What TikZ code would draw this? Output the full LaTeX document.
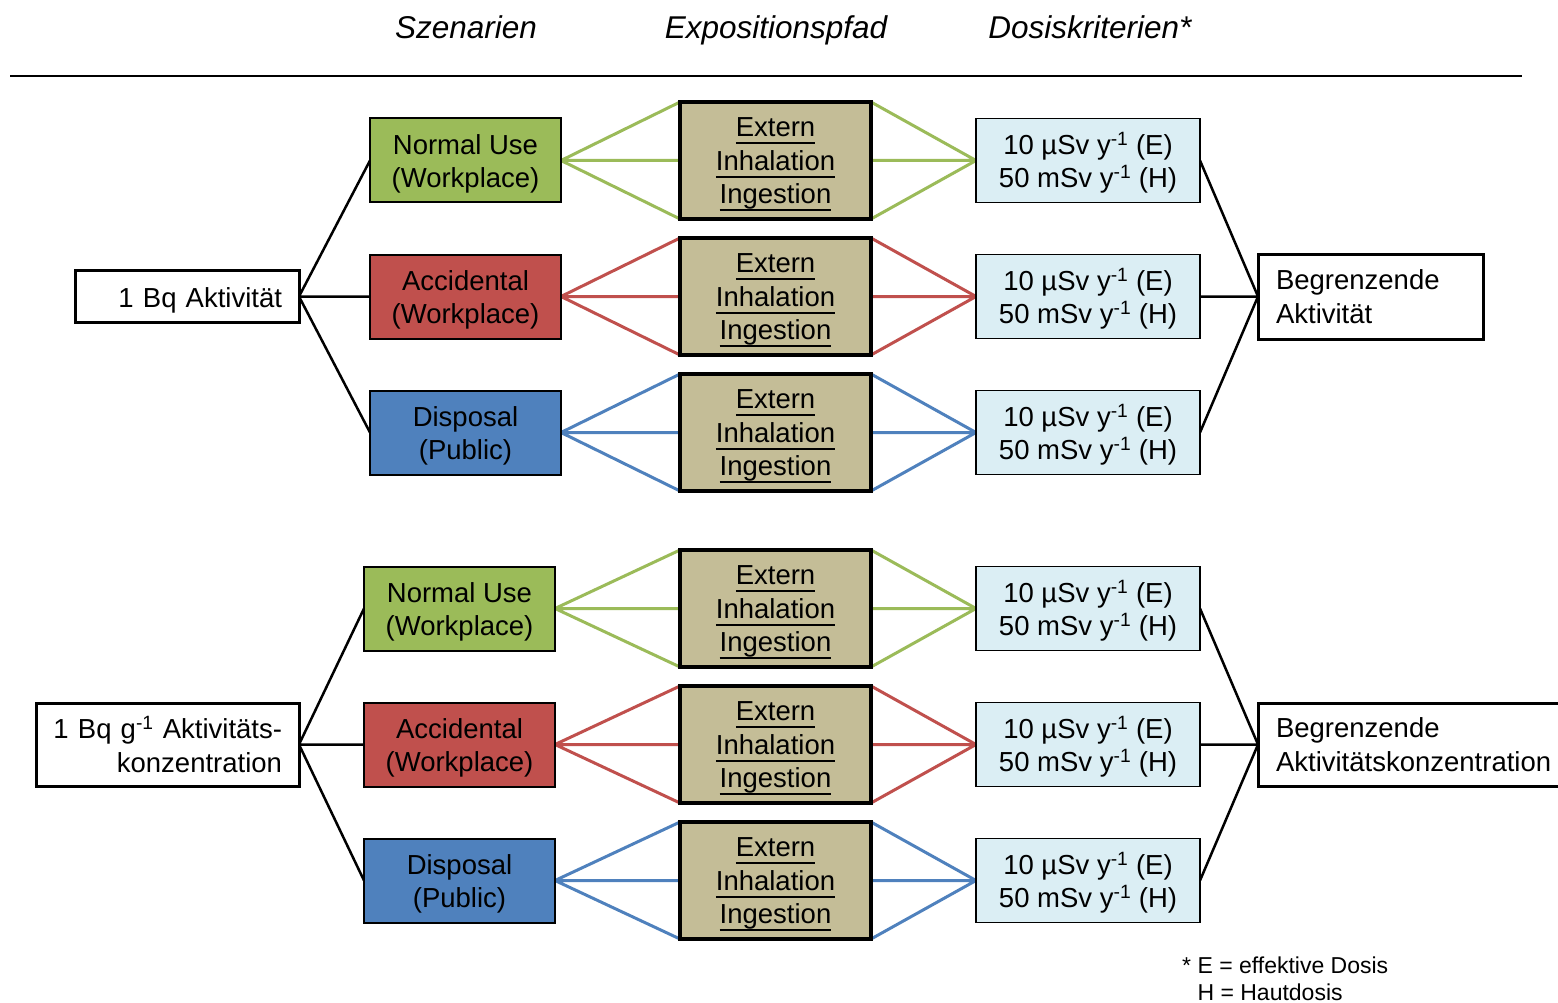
\documentclass[tikz,border=0pt]{standalone}
\usepackage{fontspec}
\setmainfont{Liberation Sans}
\usepackage{xcolor}
\usetikzlibrary{positioning, backgrounds}

\definecolor{grn}{HTML}{9BBB59}
\definecolor{rd}{HTML}{C0504D}
\definecolor{blu}{HTML}{4F81BD}
\definecolor{tan}{HTML}{C4BD97}
\definecolor{ice}{HTML}{DBEEF4}
\newcommand{\bigtxt}{\fontsize{27.5}{33.5}\selectfont}
\newcommand{\lift}{\rule{0pt}{27pt}}
\newcommand{\perY}{y\textsuperscript{-1}}
\newcommand{\ul}[1]{\setbox0=\hbox{#1}\rlap{\rule[-7.5pt]{\wd0}{2pt}}\box0}
\newcommand{\pfadtext}{\lift\ul{Extern}\\\ul{Inhalation}\\\ul{Ingestion}}
\newcommand{\dosistext}{\lift 10 µSv \perY{} (E)\\50 mSv \perY{} (H)}

\begin{document}
\begin{tikzpicture}[
    x=1pt, y=-1pt,
    szen/.style={draw, line width=2pt, fill=#1, minimum width=191pt, minimum height=84pt, inner sep=0pt, outer sep=0pt, align=center, font=\bigtxt},
    pfad/.style={draw, line width=3.5pt, fill=tan, minimum width=191pt, minimum height=117pt, inner sep=0pt, outer sep=0pt, align=center, font=\bigtxt},
    dosis/.style={draw, line width=1.5pt, fill=ice, minimum width=224pt, minimum height=84pt, inner sep=0pt, outer sep=0pt, align=center, font=\bigtxt},
    ende/.style={draw, line width=3pt, fill=white, inner sep=0pt, outer sep=0pt, font=\bigtxt},
    header/.style={font=\fontsize{31.5}{36}\selectfont\itshape, anchor=base},
    blk/.style={line width=2.5pt, black},
    fan/.style={line width=3pt, draw=#1}
]
\useasboundingbox (0,0) rectangle (1558,1003);

% Column headers
\node[header] (h1) at (466,39) {Szenarien};
\node[header] (h2) at (776,39) {Expositionspfad};
\node[header] (h3) at (1090,39) {Dosiskriterien*};
\draw[line width=2.5pt] (10,76) -- (1522,76);

% Upper group: activity
\node[pfad] (a2) at (775.5,160.5) {\pfadtext};
\node[pfad, below=19pt of a2] (b2) {\pfadtext};
\node[pfad, below=19pt of b2] (c2) {\pfadtext};
\node[szen=grn, left=119pt of a2] (a1) {\lift Normal Use\\(Workplace)};
\node[szen=rd, left=119pt of b2] (b1) {\lift Accidental\\(Workplace)};
\node[szen=blu, left=119pt of c2] (c1) {\lift Disposal\\(Public)};
\node[dosis, right=105pt of a2] (a3) {\dosistext};
\node[dosis, right=105pt of b2] (b3) {\dosistext};
\node[dosis, right=105pt of c2] (c3) {\dosistext};
\node[ende, minimum width=224pt, minimum height=52pt, text width=190pt, align=right, left=71pt of b1] (q1) {\lift 1 Bq Aktivität};
\node[ende, minimum width=225pt, minimum height=85pt, text width=189pt, align=left, right=58pt of b3] (g1) {Begrenzende\\Aktivität};

% Lower group: activity concentration
\node[pfad] (d2) at (775.5,608.5) {\pfadtext};
\node[pfad, below=19pt of d2] (e2) {\pfadtext};
\node[pfad, below=19pt of e2] (f2) {\pfadtext};
\node[szen=grn, left=125pt of d2] (d1) {\lift Normal Use\\(Workplace)};
\node[szen=rd, left=125pt of e2] (e1) {\lift Accidental\\(Workplace)};
\node[szen=blu, left=125pt of f2] (f1) {\lift Disposal\\(Public)};
\node[dosis, right=105pt of d2] (d3) {\dosistext};
\node[dosis, right=105pt of e2] (e3) {\dosistext};
\node[dosis, right=105pt of f2] (f3) {\dosistext};
\node[ende, minimum width=263pt, minimum height=83pt, text width=229pt, align=right, left=65pt of e1] (q2) {1 Bq g\textsuperscript{-1} Aktivitäts-\\konzentration};
\node[ende, minimum width=313pt, minimum height=83pt, text width=277pt, align=left, right=58pt of e3] (g2) {Begrenzende\\Aktivitätskonzentration};

% Footnote
\node[anchor=north west, align=left, inner sep=0pt, font=\fontsize{23}{27}\selectfont] (fn) at (1182,957) {* E = effektive Dosis\\\phantom{* }H = Hautdosis};

% Connectors
\begin{scope}[on background layer]
\draw[blk] (q1.east) -- (a1.west) (q1.east) -- (b1.west) (q1.east) -- (c1.west);
\draw[blk] (a3.east) -- (g1.west) (b3.east) -- (g1.west) (c3.east) -- (g1.west);
\draw[fan=grn] (a1.east) -- (a2.north west) (a1.east) -- (a2.west) (a1.east) -- (a2.south west);
\draw[fan=grn] (a2.north east) -- (a3.west) (a2.east) -- (a3.west) (a2.south east) -- (a3.west);
\draw[fan=rd] (b1.east) -- (b2.north west) (b1.east) -- (b2.west) (b1.east) -- (b2.south west);
\draw[fan=rd] (b2.north east) -- (b3.west) (b2.east) -- (b3.west) (b2.south east) -- (b3.west);
\draw[fan=blu] (c1.east) -- (c2.north west) (c1.east) -- (c2.west) (c1.east) -- (c2.south west);
\draw[fan=blu] (c2.north east) -- (c3.west) (c2.east) -- (c3.west) (c2.south east) -- (c3.west);

\draw[blk] (q2.east) -- (d1.west) (q2.east) -- (e1.west) (q2.east) -- (f1.west);
\draw[blk] (d3.east) -- (g2.west) (e3.east) -- (g2.west) (f3.east) -- (g2.west);
\draw[fan=grn] (d1.east) -- (d2.north west) (d1.east) -- (d2.west) (d1.east) -- (d2.south west);
\draw[fan=grn] (d2.north east) -- (d3.west) (d2.east) -- (d3.west) (d2.south east) -- (d3.west);
\draw[fan=rd] (e1.east) -- (e2.north west) (e1.east) -- (e2.west) (e1.east) -- (e2.south west);
\draw[fan=rd] (e2.north east) -- (e3.west) (e2.east) -- (e3.west) (e2.south east) -- (e3.west);
\draw[fan=blu] (f1.east) -- (f2.north west) (f1.east) -- (f2.west) (f1.east) -- (f2.south west);
\draw[fan=blu] (f2.north east) -- (f3.west) (f2.east) -- (f3.west) (f2.south east) -- (f3.west);
\end{scope}

\end{tikzpicture}
\end{document}
